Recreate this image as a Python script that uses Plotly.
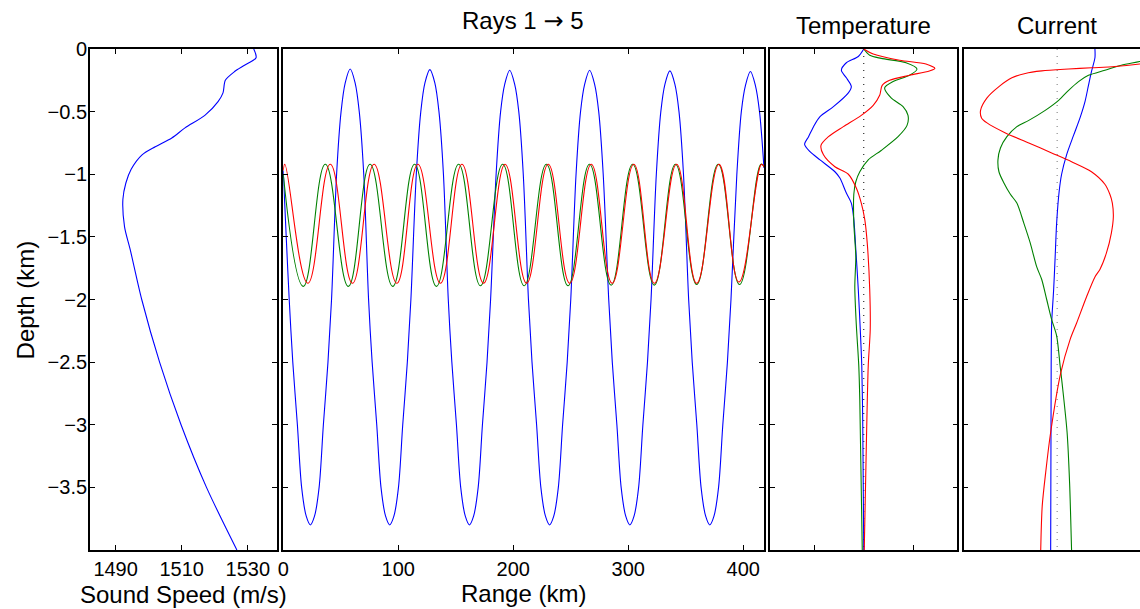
import plotly.graph_objects as go

# ---------------- data ----------------
# Panel 1: sound speed profile
ss_speed = [1531.8, 1532.5, 1529.0, 1526.0, 1523.2, 1522.5, 1521.0, 1517.0, 1511.0, 1507.0,
            1502.0, 1498.0, 1494.7, 1493.1, 1492.2, 1492.7, 1494.4, 1497.9, 1503.3, 1509.8,
            1517.5, 1526.7]
ss_depth = [0.0, -0.07, -0.13, -0.18, -0.25, -0.35, -0.42, -0.53, -0.63, -0.71,
            -0.78, -0.845, -0.96, -1.07, -1.20, -1.42, -1.60, -2.0, -2.5, -3.0,
            -3.5, -4.0]

# Panel 2: rays (range km, depth km)
ray_blue_r = [0.0, 2.6, 5.2, 8.3, 12.3, 16.0, 20.0, 23.6, 27.2, 31.2, 34.9, 38.9, 42.0, 46.4, 50.3, 53.9, 58.2, 62.5, 66.1, 70.0,
              74.2, 77.3, 81.3, 85.0, 89.0, 92.6, 96.2, 100.2, 103.9, 107.9, 111.0, 115.7, 119.6, 123.2, 127.5, 131.8, 135.4, 139.3,
              143.5, 146.6, 150.6, 154.3, 158.3, 161.9, 165.5, 169.5, 173.2, 177.2, 180.3, 185.1, 189.0, 192.6, 196.9, 201.2, 204.8, 208.7,
              213.2, 216.3, 220.3, 224.0, 228.0, 231.6, 235.2, 239.2, 242.9, 246.9, 250.0, 254.6, 258.5, 262.1, 266.4, 270.7, 274.3, 278.2,
              283.0, 286.1, 290.1, 293.8, 297.8, 301.4, 305.0, 309.0, 312.7, 316.7, 319.8, 324.4, 328.3, 331.9, 336.2, 340.5, 344.1, 348.0,
              352.5, 355.6, 359.6, 363.3, 367.3, 370.9, 374.5, 378.5, 382.2, 386.2, 389.3, 394.4, 398.3, 401.9, 406.2, 410.5, 414.1, 418.0]
ray_blue_d = [-0.97, -1.5, -2.0, -2.5, -3.0, -3.5, -3.73, -3.80, -3.73, -3.5, -3.0, -2.5, -2.0, -1.0, -0.5, -0.27, -0.16, -0.27, -0.5, -1.0,
              -2.0, -2.5, -3.0, -3.5, -3.73, -3.80, -3.73, -3.5, -3.0, -2.5, -2.0, -1.0, -0.5, -0.27, -0.165, -0.27, -0.5, -1.0,
              -2.0, -2.5, -3.0, -3.5, -3.73, -3.80, -3.73, -3.5, -3.0, -2.5, -2.0, -1.0, -0.5, -0.28, -0.17, -0.28, -0.5, -1.0,
              -2.0, -2.5, -3.0, -3.5, -3.73, -3.80, -3.73, -3.5, -3.0, -2.5, -2.0, -1.0, -0.5, -0.28, -0.17, -0.28, -0.5, -1.0,
              -2.0, -2.5, -3.0, -3.5, -3.73, -3.80, -3.73, -3.5, -3.0, -2.5, -2.0, -1.0, -0.5, -0.28, -0.175, -0.28, -0.5, -1.0,
              -2.0, -2.5, -3.0, -3.5, -3.73, -3.80, -3.73, -3.5, -3.0, -2.5, -2.0, -1.0, -0.5, -0.29, -0.18, -0.29, -0.5, -0.95]

ray_green_r = [0.0, 17.5, 36.6, 56.6, 75.5, 95.2, 114.2, 133.2, 152.5, 171.5, 190.8, 209.5, 228.8,
               247.6, 266.3, 285.1, 303.8, 322.6, 341.0, 359.5, 378.2, 396.7, 415.4, 418.0]
ray_green_d = [-1.0, -1.895, -0.92, -1.895, -0.92, -1.895, -0.92, -1.895, -0.92, -1.89, -0.92, -1.89, -0.92,
               -1.89, -0.92, -1.885, -0.92, -1.885, -0.92, -1.88, -0.92, -1.88, -0.92, -0.94]

ray_red_r = [0.0, 1.4, 21.4, 40.9, 60.2, 79.0, 98.8, 117.1, 136.7, 155.4, 174.2, 192.9, 211.6, 230.4,
             249.1, 267.8, 286.0, 304.8, 322.7, 342.0, 359.5, 378.9, 396.2, 415.8, 418.0]
ray_red_d = [-0.97, -0.92, -1.87, -0.92, -1.87, -0.92, -1.87, -0.92, -1.87, -0.92, -1.87, -0.92, -1.87, -0.92,
             -1.87, -0.92, -1.87, -0.92, -1.87, -0.92, -1.87, -0.92, -1.86, -0.92, -0.94]

# Panel 3: temperature perturbations (arbitrary units, depth km)
temp_blue_v = [0.0, -0.11, -0.35, -0.45, -0.35, -0.25, -0.31, -0.61, -0.88, -1.01, -1.11, -1.19, -1.08,
               -0.88, -0.58, -0.48, -0.35, -0.25, -0.20, -0.16, -0.11, -0.07, -0.04, -0.02, 0.0]
temp_blue_d = [0.0, -0.06, -0.11, -0.17, -0.23, -0.30, -0.35, -0.46, -0.54, -0.62, -0.70, -0.76, -0.82,
               -0.885, -0.98, -1.03, -1.15, -1.23, -1.36, -1.60, -1.92, -2.24, -2.53, -3.0, -4.0]
temp_green_v = [0.0, 0.12, 0.35, 0.85, 1.07, 0.92, 0.59, 0.42, 0.55, 0.79, 0.89, 0.87, 0.69, 0.35, 0.09,
                -0.08, -0.16, -0.20, -0.20, -0.18, -0.16, -0.18, -0.15, -0.10, -0.08, -0.03]
temp_green_d = [0.0, -0.05, -0.075, -0.11, -0.16, -0.21, -0.26, -0.31, -0.39, -0.46, -0.53, -0.61, -0.70,
                -0.81, -0.885, -0.98, -1.06, -1.16, -1.39, -1.52, -1.66, -1.90, -2.20, -2.53, -2.80, -4.0]
temp_red_v = [0.0, 0.19, 0.72, 1.25, 1.43, 1.32, 0.92, 0.52, 0.37, 0.32, 0.19, -0.05, -0.41, -0.71, -0.86,
              -0.81, -0.58, -0.31, -0.15, -0.05, 0.02, 0.07, 0.12, 0.13, 0.09, 0.05, 0.01]
temp_red_d = [0.0, -0.04, -0.09, -0.12, -0.155, -0.175, -0.21, -0.25, -0.29, -0.37, -0.45, -0.53, -0.62,
              -0.70, -0.77, -0.845, -0.94, -1.00, -1.11, -1.23, -1.36, -1.55, -1.92, -2.24, -2.53, -3.2, -4.0]

# Panel 4: current perturbations (arbitrary units, depth km)
cur_blue_v = [0.76, 0.76, 0.69, 0.63, 0.56, 0.46, 0.33, 0.19, 0.09, 0.04, -0.01, -0.04, -0.07, -0.11,
              -0.12, -0.13]
cur_blue_d = [0.0, -0.07, -0.18, -0.29, -0.42, -0.55, -0.69, -0.845, -1.00, -1.14, -1.39, -1.66, -1.92,
              -2.19, -2.53, -4.0]
cur_green_v = [2.2, 1.66, 1.29, 0.96, 0.63, 0.43, 0.23, 0.03, -0.24, -0.57, -0.81, -1.01, -1.14, -1.19,
               -1.17, -1.07, -0.94, -0.81, -0.67, -0.54, -0.41, -0.31, -0.21, -0.11, -0.01, 0.06, 0.10,
               0.20, 0.25, 0.29]
cur_green_d = [-0.05, -0.10, -0.13, -0.17, -0.21, -0.26, -0.33, -0.41, -0.49, -0.57, -0.62, -0.70, -0.79,
               -0.885, -0.98, -1.07, -1.16, -1.23, -1.39, -1.55, -1.74, -1.84, -2.00, -2.16, -2.29, -2.53,
               -2.67, -3.06, -3.46, -4.0]
cur_red_v = [2.2, 1.66, 1.16, 0.69, 0.23, -0.31, -0.64, -0.91, -1.17, -1.41, -1.54, -1.52, -1.41, -1.04,
             -0.57, -0.11, 0.29, 0.69, 0.96, 1.06, 1.11, 1.13, 1.09, 0.99, 0.86, 0.76, 0.59, 0.39, 0.26,
             0.07, -0.13, -0.23, -0.30, -0.33]
cur_red_d = [-0.09, -0.12, -0.14, -0.15, -0.16, -0.175, -0.195, -0.23, -0.30, -0.39, -0.49, -0.55, -0.59,
             -0.67, -0.75, -0.83, -0.90, -0.98, -1.08, -1.16, -1.23, -1.34, -1.47, -1.63, -1.76, -1.82,
             -1.98, -2.19, -2.32, -2.59, -3.06, -3.38, -3.65, -4.0]

depth_ticks = [0, -0.5, -1, -1.5, -2, -2.5, -3, -3.5]
depth_tick_text = ["0", "\u22120.5", "\u22121", "\u22121.5", "\u22122", "\u22122.5", "\u22123", "\u22123.5"]
speed_ticks = [1490, 1510, 1530]
range_ticks = [0, 100, 200, 300, 400]

# ---------------- styling ----------------
W, H = 1140, 609
FONT = "Liberation Sans, Arial, Helvetica, sans-serif"
BLUE, GREEN, RED = "#0000ff", "#008000", "#ff0000"
LW = 1.1

def px(x):
    return x / W

fig = go.Figure()

def line(x, y, color, xa, ya, shape="spline", width=LW, dash="solid", smoothing=0.8):
    fig.add_trace(go.Scatter(x=x, y=y, mode="lines", xaxis=xa, yaxis=ya, showlegend=False,
                             hoverinfo="skip",
                             line=dict(color=color, width=width, shape=shape, dash=dash,
                                       smoothing=smoothing if shape == "spline" else None)))

line(ss_speed, ss_depth, BLUE, "x", "y")

line(ray_blue_r, ray_blue_d, BLUE, "x2", "y2", smoothing=0.9)
line(ray_green_r, ray_green_d, GREEN, "x2", "y2", smoothing=1.25)
line(ray_red_r, ray_red_d, RED, "x2", "y2", smoothing=1.25)

line([0, 0], [0, -4], "#000000", "x3", "y3", shape="linear", width=1, dash="1px,6px")
line(temp_blue_v, temp_blue_d, BLUE, "x3", "y3")
line(temp_green_v, temp_green_d, GREEN, "x3", "y3")
line(temp_red_v, temp_red_d, RED, "x3", "y3")

line([0, 0], [0, -4], "#777777", "x4", "y4", shape="linear", width=1, dash="1px,6px")
line(cur_blue_v, cur_blue_d, BLUE, "x4", "y4")
line(cur_green_v, cur_green_d, GREEN, "x4", "y4")
line(cur_red_v, cur_red_d, RED, "x4", "y4")

tickfont = dict(family=FONT, size=20, color="#000000")
common = dict(showline=True, linecolor="#000000", linewidth=1.5, ticks="inside", ticklen=5,
              tickcolor="#000000", tickwidth=1, showgrid=False, zeroline=False, tickfont=tickfont,
              fixedrange=True)

domains = [(84.3, 272.3), (278.7, 762.0), (768.3, 956.3), (962.7, 1140.0)]

fig.update_layout(
    width=W, height=H,
    margin=dict(l=0, r=0, t=49, b=59, pad=0),
    paper_bgcolor="white", plot_bgcolor="white",
    font=dict(family=FONT, color="#000000"),
    xaxis=dict(domain=[px(domains[0][0]), px(domains[0][1])], range=[1482.2, 1538.8],
               tickvals=speed_ticks, mirror="ticks", anchor="y", **common),
    yaxis=dict(domain=[0, 1], range=[-4, 0], tickvals=depth_ticks, ticktext=depth_tick_text,
               mirror="ticks", anchor="x", ticklabelstandoff=-3, **common),
    xaxis2=dict(domain=[px(domains[1][0]), px(domains[1][1])], range=[0, 418],
                tickvals=range_ticks, mirror="ticks", anchor="y2", **common),
    yaxis2=dict(domain=[0, 1], range=[-4, 0], tickvals=depth_ticks, showticklabels=False,
                mirror="ticks", anchor="x2", **common),
    xaxis3=dict(domain=[px(domains[2][0]), px(domains[2][1])], range=[-1.88, 1.88],
                tickvals=[-1, 1], showticklabels=False, mirror="ticks", anchor="y3", **common),
    yaxis3=dict(domain=[0, 1], range=[-4, 0], tickvals=depth_ticks, showticklabels=False,
                mirror="ticks", anchor="x3", **common),
    xaxis4=dict(domain=[px(domains[3][0]), 1.0], range=[-1.88, 1.666],
                tickvals=[], showticklabels=False, mirror=True, anchor="y4", **common),
    yaxis4=dict(domain=[0, 1], range=[-4, 0], tickvals=depth_ticks, showticklabels=False,
                mirror=False, anchor="x4", **common),
)

def ypaper(ypx):
    return 1 - (ypx - 49) / 501.0

labfont = dict(family=FONT, size=24, color="#000000")
annots = [
    dict(text="Rays 1 <span style='font-family:DejaVu Sans'>\u2192</span> 5", x=px(520), y=ypaper(21.5)),
    dict(text="Temperature", x=px(862), y=ypaper(25)),
    dict(text="Current", x=px(1057), y=ypaper(25.5)),
    dict(text="Sound Speed (m/s)", x=px(178), y=ypaper(594)),
    dict(text="Range (km)", x=px(520.5), y=ypaper(593)),
]
for a in annots:
    fig.add_annotation(xref="paper", yref="paper", showarrow=False, xanchor="center",
                       yanchor="middle", font=labfont, **a)
fig.add_annotation(text="Depth (km)", xref="paper", yref="paper", x=px(19.5), y=ypaper(300),
                   showarrow=False, textangle=-90, xanchor="center", yanchor="middle", font=labfont)

fig.write_html("out.html")
